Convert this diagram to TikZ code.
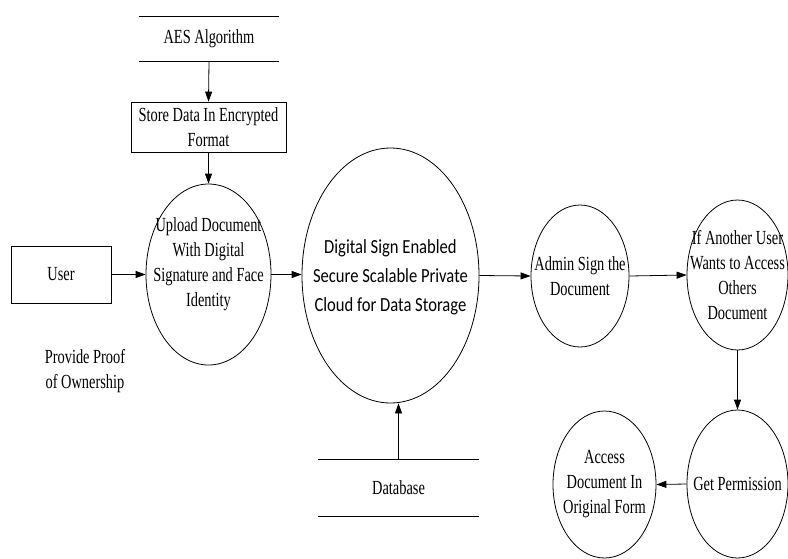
\documentclass[tikz,border=0pt]{standalone}
\usepackage{fontspec}
\setmainfont{Liberation Serif}[FakeStretch=0.72]
\newfontfamily\cloudfont{Carlito}[FakeStretch=0.83]
\usetikzlibrary{shapes.geometric,arrows.meta}
\tikzset{
    proc/.style={draw, ellipse, inner sep=0pt},
    ent/.style={draw, rectangle, inner sep=0pt, align=center},
    datastore/.style={inner sep=0pt, align=center},
    txt/.style={inner sep=0pt, align=center},
    flow/.style={draw, -{Triangle[length=10pt,width=7pt]}}
}
\begin{document}
\begin{tikzpicture}[x=1pt,y=-1pt,line width=0.8pt,font=\fontsize{20}{25}\selectfont]
    \useasboundingbox (0,0) rectangle (788,558);
    % Data stores (open rectangles)
    \node[datastore, minimum width=140pt, minimum height=44pt] (aes) at (209,39) {AES Algorithm};
    \node[datastore, minimum width=161pt, minimum height=56pt] (db) at (398.5,488) {Database};
    \foreach \s in {aes,db} {
        \draw (\s.north west) -- (\s.north east);
        \draw (\s.south west) -- (\s.south east);
    }
    % Boxes
    \node[ent, minimum width=155pt, minimum height=50pt] (store) at (208.5,127) {Store Data In Encrypted\\Format};
    \node[ent, minimum width=100pt, minimum height=57pt] (user) at (61,274.5) {User};
    \node[txt] (proof) at (85,371) {Provide Proof\\of Ownership};
    % Processes
    \node[proc, minimum width=125pt, minimum height=181pt] (upload) at (208.5,274.5) {};
    \node[txt] (uploadtxt) at (208.5,264) {Upload Document\\With Digital\\Signature and Face\\Identity};
    \node[proc, minimum width=177pt, minimum height=255pt] (cloud) at (390.5,275.5) {};
    \node[txt, font=\cloudfont\fontsize{20}{29}\selectfont] (cloudtxt) at (390.5,277) {Digital Sign Enabled\\Secure Scalable Private\\Cloud for Data Storage};
    \node[proc, minimum width=98pt, minimum height=142pt] (admin) at (580,276) {};
    \node[txt] (admintxt) at (admin) {Admin Sign the\\Document};
    \node[proc, minimum width=101pt, minimum height=150pt] (other) at (737.5,275) {};
    \node[txt] (othertxt) at (other) {If Another User\\Wants to Access\\Others\\Document};
    \node[proc, minimum width=101pt, minimum height=148pt] (perm) at (737.5,484) {};
    \node[txt] (permtxt) at (perm) {Get Permission};
    \node[proc, minimum width=103pt, minimum height=147pt] (access) at (604.5,484.5) {};
    \node[txt] (accesstxt) at (access) {Access\\Document In\\Original Form};
    % Flows
    \draw[flow] (aes.south) -- (store.north);
    \draw[flow] (store.south) -- (upload.north);
    \draw[flow] (user.east) -- (upload.west);
    \draw[flow] (upload.east) -- (upload.east -| cloud.west);
    \draw[flow] (cloud.east) -- (admin.west);
    \draw[flow] (admin.east) -- (other.west);
    \draw[flow] (other.south) -- (perm.north);
    \draw[flow] (perm.west) -- (access.east);
    \draw[flow] (db.north) -- (db.north |- cloud.south);
\end{tikzpicture}
\end{document}
